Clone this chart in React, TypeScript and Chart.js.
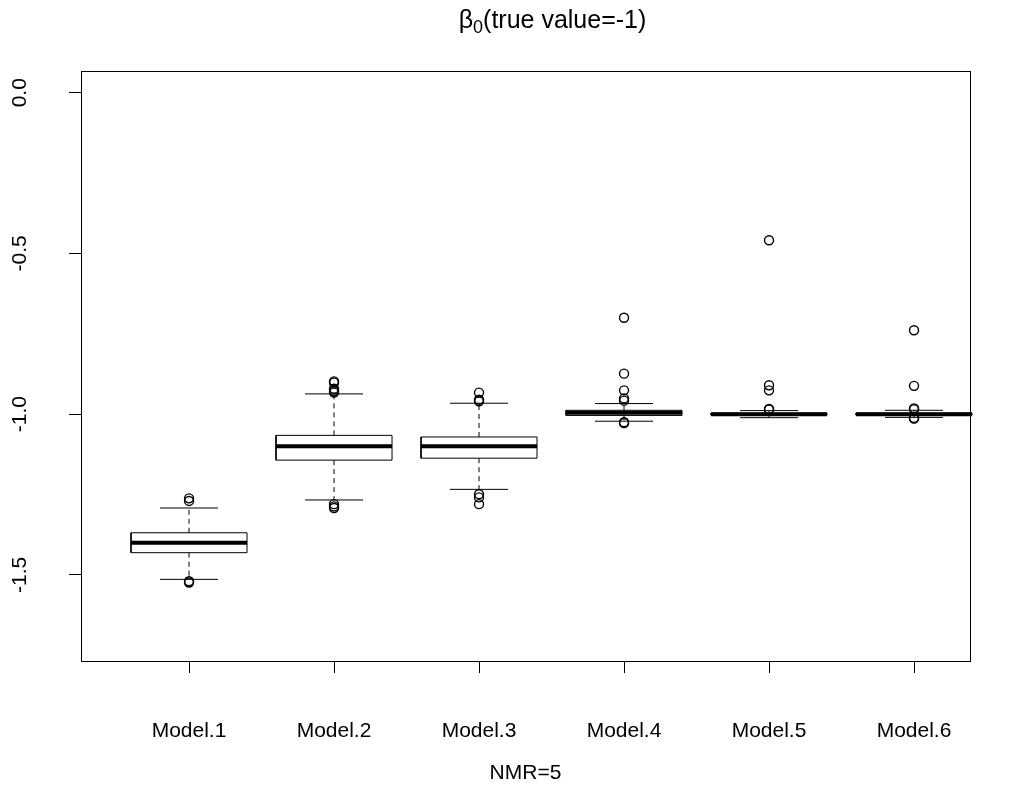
import React, { useEffect, useRef } from "react";
import { Chart, registerables } from "chart.js";
Chart.register(...registerables);

const categories = ["Model.1", "Model.2", "Model.3", "Model.4", "Model.5", "Model.6"];
const positions = [1, 2, 3, 4, 5, 6];
const lowerWhisker = [-1.514, -1.267, -1.234, -1.022, -1.011, -1.010];
const q1 = [-1.431, -1.143, -1.137, -1.004, -1.003, -1.003];
const median = [-1.4, -1.1, -1.1, -0.996, -1.0, -1.0];
const q3 = [-1.369, -1.066, -1.071, -0.988, -0.997, -0.997];
const upperWhisker = [-1.292, -0.937, -0.966, -0.967, -0.989, -0.988];
const outliersModel1 = [-1.262, -1.27, -1.52, -1.524];
const outliersModel2 = [-0.898, -0.902, -0.921, -0.928, -0.933, -1.28, -1.287, -1.292];
const outliersModel3 = [-0.933, -0.955, -0.96, -1.249, -1.259, -1.28];
const outliersModel4 = [-0.7, -0.874, -0.926, -0.951, -0.958, -1.025, -1.028];
const outliersModel5 = [-0.459, -0.91, -0.926, -0.984, -0.986];
const outliersModel6 = [-0.739, -0.912, -0.982, -0.985, -1.012, -1.014];
const outliers = [outliersModel1, outliersModel2, outliersModel3, outliersModel4, outliersModel5, outliersModel6];
const yTicks = [0, -0.5, -1.0, -1.5];
const yTickLabels = ["0.0", "-0.5", "-1.0", "-1.5"];
const titleMain = "β";
const titleSub = "0";
const titleRest = "(true value=-1)";
const xTitle = "NMR=5";

const FONT = "'Liberation Sans', Arial, sans-serif";
const BOX_HALF = 0.4;
const STAPLE_HALF = 0.2;

export default function App() {
  const ref = useRef<HTMLCanvasElement | null>(null);
  useEffect(() => {
    document.body.style.margin = "0";
    document.body.style.overflow = "hidden";
    const canvas = ref.current;
    if (!canvas) return;

    const lineDs = (pts: { x: number; y: number }[], width: number, dash: number[] = []) => ({
      type: "scatter" as const,
      data: pts,
      showLine: true,
      borderColor: "#000",
      backgroundColor: "transparent",
      borderWidth: width,
      borderDash: dash,
      pointRadius: 0,
      pointHoverRadius: 0,
      clip: false as any,
    });

    const datasets: any[] = [];
    const outPts: { x: number; y: number }[] = [];
    outliers.forEach((arr, i) => arr.forEach((v) => outPts.push({ x: positions[i], y: v })));
    datasets.push({
      type: "scatter",
      data: outPts,
      showLine: false,
      pointStyle: "circle",
      pointRadius: 4.5,
      pointBorderWidth: 1.4,
      pointBorderColor: "#000",
      pointBackgroundColor: "transparent",
      clip: false,
    });
    positions.forEach((p, i) => {
      datasets.push(lineDs([{ x: p - BOX_HALF, y: median[i] }, { x: p + BOX_HALF, y: median[i] }], 4));
      datasets.push(
        lineDs(
          [
            { x: p - BOX_HALF, y: q1[i] },
            { x: p + BOX_HALF, y: q1[i] },
            { x: p + BOX_HALF, y: q3[i] },
            { x: p - BOX_HALF, y: q3[i] },
            { x: p - BOX_HALF, y: q1[i] },
          ],
          1
        )
      );
      datasets.push(lineDs([{ x: p - STAPLE_HALF, y: upperWhisker[i] }, { x: p + STAPLE_HALF, y: upperWhisker[i] }], 1));
      datasets.push(lineDs([{ x: p - STAPLE_HALF, y: lowerWhisker[i] }, { x: p + STAPLE_HALF, y: lowerWhisker[i] }], 1));
      datasets.push(lineDs([{ x: p, y: q3[i] }, { x: p, y: upperWhisker[i] }], 1, [5, 4]));
      datasets.push(lineDs([{ x: p, y: q1[i] }, { x: p, y: lowerWhisker[i] }], 1, [5, 4]));
    });

    const textPlugin = {
      id: "rtext",
      afterDraw(chart: any) {
        const ctx = chart.ctx as CanvasRenderingContext2D;
        const a = chart.chartArea;
        ctx.save();
        ctx.strokeStyle = "#000";
        ctx.lineWidth = 1;
        ctx.strokeRect(Math.round(a.left) + 0.5, Math.round(a.top) + 0.5, Math.round(a.right - a.left), Math.round(a.bottom - a.top));
        ctx.fillStyle = "#000";
        ctx.textBaseline = "alphabetic";
        ctx.textAlign = "left";
        const mainFont = `25px ${FONT}`;
        const subFont = `18px ${FONT}`;
        ctx.font = mainFont;
        const w1 = ctx.measureText(titleMain).width;
        const w3 = ctx.measureText(titleRest).width;
        ctx.font = subFont;
        const w2 = ctx.measureText(titleSub).width;
        const total = w1 + w2 + w3;
        let x = 552.5 - total / 2;
        const base = 28;
        ctx.font = mainFont;
        ctx.fillText(titleMain, x, base);
        x += w1;
        ctx.font = subFont;
        ctx.fillText(titleSub, x, base + 5);
        x += w2;
        ctx.font = mainFont;
        ctx.fillText(titleRest, x, base);
        const ys = chart.scales.y;
        ctx.font = `21px ${FONT}`;
        ctx.textAlign = "center";
        yTicks.forEach((v, i) => {
          const py = ys.getPixelForValue(v);
          ctx.save();
          ctx.translate(26, py);
          ctx.rotate(-Math.PI / 2);
          ctx.fillText(yTickLabels[i], 0, 0);
          ctx.restore();
        });
        ctx.restore();
      },
    };

    const chart = new Chart(canvas, {
      type: "scatter",
      data: { datasets },
      options: {
        animation: false,
        responsive: false,
        events: [],
        layout: { padding: { top: 71, right: 41, bottom: 0, left: 0 } },
        plugins: { legend: { display: false }, tooltip: { enabled: false }, title: { display: false } },
        scales: {
          x: {
            type: "linear",
            min: 0.255,
            max: 6.386,
            afterBuildTicks: (s: any) => {
              s.ticks = positions.map((v) => ({ value: v }));
            },
            afterFit: (s: any) => {
              s.height = 126;
            },
            ticks: {
              autoSkip: false,
              maxRotation: 0,
              minRotation: 0,
              padding: 46,
              color: "#000",
              font: { family: FONT, size: 21 },
              callback: (_v: any, idx: number) => categories[idx],
            },
            grid: { drawOnChartArea: false, drawTicks: true, tickLength: 12, color: "#000", tickColor: "#000", lineWidth: 1 },
            border: { display: false },
            title: {
              display: true,
              text: xTitle,
              color: "#000",
              font: { family: FONT, size: 21 },
              padding: { top: 0, bottom: 1 },
            },
          },
          y: {
            type: "linear",
            min: -1.768,
            max: 0.0676,
            afterBuildTicks: (s: any) => {
              s.ticks = yTicks.map((v) => ({ value: v }));
            },
            afterFit: (s: any) => {
              s.width = 81;
            },
            ticks: { display: false },
            grid: { drawOnChartArea: false, drawTicks: true, tickLength: 12, color: "#000", tickColor: "#000", lineWidth: 1 },
            border: { display: false },
          },
        },
      } as any,
      plugins: [textPlugin],
    });
    return () => chart.destroy();
  }, []);

  return (
    <div style={{ width: 1011, height: 787, background: "#fff" }}>
      <canvas ref={ref} width={1011} height={787} />
    </div>
  );
}
